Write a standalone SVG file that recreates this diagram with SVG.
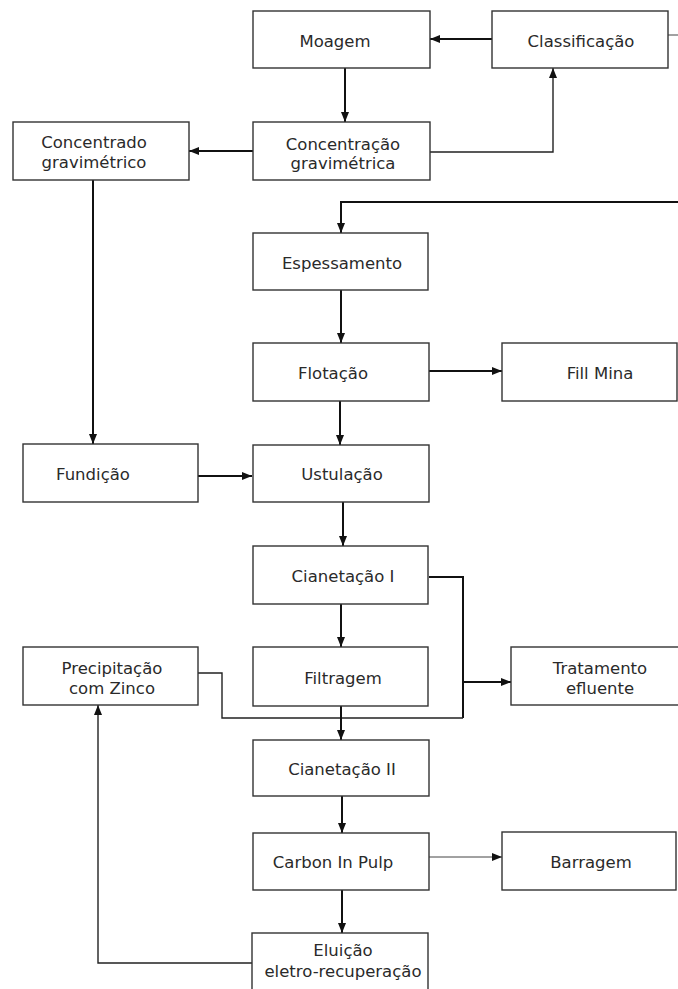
<svg xmlns="http://www.w3.org/2000/svg" width="678" height="989" viewBox="0 0 678 989">
<style>
.box{fill:#fff;stroke:#333;stroke-width:1.4}
.t{font-family:"DejaVu Sans","Liberation Sans",sans-serif;font-size:16.5px;fill:#2a2a2a;text-anchor:middle}
.c{fill:none;stroke:#111;stroke-width:2}
.thin{fill:none;stroke:#222;stroke-width:1.4}
.hair{fill:none;stroke:#444;stroke-width:1}
</style>
<defs>
<marker id="ah" markerUnits="userSpaceOnUse" markerWidth="10" markerHeight="10" viewBox="0 0 10 10" refX="10" refY="5" orient="auto">
<path d="M0,1 L10,5 L0,9 Z" fill="#111"/>
</marker>
</defs>
<rect width="678" height="989" fill="#fff"/>
<g id="connectors">
<path class="c" d="M492,39 H430" marker-end="url(#ah)"/>
<path class="c" d="M345,68 V122" marker-end="url(#ah)"/>
<path class="c" d="M253,151 H189" marker-end="url(#ah)"/>
<path class="thin" d="M430,152 H553 V68" marker-end="url(#ah)"/>
<path class="hair" d="M668,35 H678"/>
<path class="c" d="M678,202 H341 V233" marker-end="url(#ah)"/>
<path class="c" d="M341,290 V343" marker-end="url(#ah)"/>
<path class="c" d="M429,371 H502" marker-end="url(#ah)"/>
<path class="c" d="M340,401 V445" marker-end="url(#ah)"/>
<path class="c" d="M93,180 V444" marker-end="url(#ah)"/>
<path class="c" d="M198,476 H252" marker-end="url(#ah)"/>
<path class="c" d="M343,502 V546" marker-end="url(#ah)"/>
<path class="c" d="M341,604 V647" marker-end="url(#ah)"/>
<path class="c" d="M429,577 H463 V718"/>
<path class="c" d="M463,682 H511" marker-end="url(#ah)"/>
<path class="thin" d="M463,718 H222 V673 H198"/>
<path class="c" d="M341,706 V740" marker-end="url(#ah)"/>
<path class="c" d="M342,796 V833" marker-end="url(#ah)"/>
<path class="hair" d="M429,857 H502" marker-end="url(#ah)"/>
<path class="c" d="M342,890 V933" marker-end="url(#ah)"/>
<path class="thin" d="M252,963 H98 V705" marker-end="url(#ah)"/>
</g>
<g id="moagem"><rect class="box" x="253" y="11" width="177" height="57"/><text class="t" x="335" y="47">Moagem</text></g>
<g id="classificacao"><rect class="box" x="492" y="11" width="176" height="57"/><text class="t" x="581" y="47">Classificação</text></g>
<g id="concentracao"><rect class="box" x="253" y="122" width="177" height="58"/><text class="t" x="343" y="150">Concentração</text><text class="t" x="343" y="169">gravimétrica</text></g>
<g id="concentrado"><rect class="box" x="13" y="122" width="176" height="58"/><text class="t" x="94" y="148">Concentrado</text><text class="t" x="94" y="168">gravimétrico</text></g>
<g id="espessamento"><rect class="box" x="253" y="233" width="175" height="57"/><text class="t" x="342" y="269">Espessamento</text></g>
<g id="flotacao"><rect class="box" x="253" y="343" width="176" height="58"/><text class="t" x="333" y="379">Flotação</text></g>
<g id="fillmina"><rect class="box" x="502" y="343" width="175" height="58"/><text class="t" x="600" y="379">Fill Mina</text></g>
<g id="fundicao"><rect class="box" x="23" y="444" width="175" height="58"/><text class="t" x="93" y="480">Fundição</text></g>
<g id="ustulacao"><rect class="box" x="253" y="445" width="176" height="57"/><text class="t" x="342" y="480">Ustulação</text></g>
<g id="cianetacao1"><rect class="box" x="253" y="546" width="175" height="58"/><text class="t" x="343" y="582">Cianetação I</text></g>
<g id="filtragem"><rect class="box" x="253" y="647" width="175" height="59"/><text class="t" x="343" y="684">Filtragem</text></g>
<g id="precipitacao"><rect class="box" x="23" y="647" width="175" height="58"/><text class="t" x="112" y="674">Precipitação</text><text class="t" x="112" y="694">com Zinco</text></g>
<g id="tratamento"><rect class="box" x="511" y="647" width="170" height="58"/><text class="t" x="600" y="674">Tratamento</text><text class="t" x="600" y="694">efluente</text></g>
<g id="cianetacao2"><rect class="box" x="253" y="740" width="176" height="56"/><text class="t" x="342" y="775">Cianetação II</text></g>
<g id="carbon"><rect class="box" x="253" y="833" width="176" height="57"/><text class="t" x="333" y="868">Carbon In Pulp</text></g>
<g id="barragem"><rect class="box" x="502" y="832" width="174" height="58"/><text class="t" x="591" y="868">Barragem</text></g>
<g id="eluicao"><rect class="box" x="252" y="933" width="176" height="62"/><text class="t" x="343" y="956">Eluição</text><text class="t" x="343" y="977">eletro-recuperação</text></g>
</svg>
